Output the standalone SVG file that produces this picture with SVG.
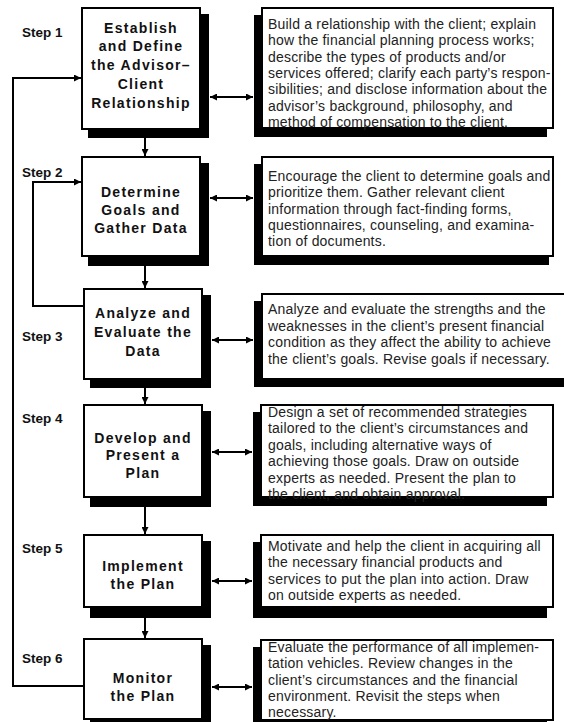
<svg xmlns="http://www.w3.org/2000/svg" width="564" height="722" viewBox="0 0 564 722">
<style>
.bg{fill:#fff}
.sh{fill:#000}
.box{fill:#fff;stroke:#000;stroke-width:2}
.ttl{font-family:"Liberation Sans",Arial,Helvetica,sans-serif;font-weight:bold;font-size:14px;letter-spacing:1.3px;fill:#111;text-anchor:middle}
.step{font-family:"Liberation Sans",Arial,Helvetica,sans-serif;font-weight:bold;font-size:13.5px;fill:#111}
.desc{font-family:"Liberation Sans",Arial,Helvetica,sans-serif;font-size:14px;letter-spacing:0.2px;fill:#222}
.ln{fill:none;stroke:#000;stroke-width:2}
</style>
<defs>
<marker id="ah" viewBox="0 0 10 10" refX="10" refY="5" markerWidth="8" markerHeight="7" orient="auto-start-reverse" markerUnits="userSpaceOnUse">
<path d="M0,0 L10,5 L0,10 z" fill="#000"/>
</marker>
</defs>
<rect class="bg" x="0" y="0" width="564" height="722"/>

<g id="step-labels">
<text class="step" x="22" y="37">Step 1</text>
<text class="step" x="22" y="177">Step 2</text>
<text class="step" x="22" y="341">Step 3</text>
<text class="step" x="22" y="423">Step 4</text>
<text class="step" x="22" y="553">Step 5</text>
<text class="step" x="22" y="663">Step 6</text>
</g>

<g id="connectors">
<line class="ln" x1="145" y1="138" x2="145" y2="156" marker-end="url(#ah)"/>
<line class="ln" x1="145" y1="266" x2="145" y2="288" marker-end="url(#ah)"/>
<line class="ln" x1="145" y1="388" x2="145" y2="404" marker-end="url(#ah)"/>
<line class="ln" x1="145" y1="507" x2="145" y2="534" marker-end="url(#ah)"/>
<line class="ln" x1="145" y1="618" x2="145" y2="638" marker-end="url(#ah)"/>
<polyline class="ln" points="84,306 33,306 33,182 81,182" marker-end="url(#ah)"/>
<polyline class="ln" points="84,686 13,686 13,78 81,78" marker-end="url(#ah)"/>
<line class="ln" x1="210" y1="97" x2="253" y2="97" marker-start="url(#ah)" marker-end="url(#ah)"/>
<line class="ln" x1="210" y1="198" x2="253" y2="198" marker-start="url(#ah)" marker-end="url(#ah)"/>
<line class="ln" x1="212" y1="340" x2="253" y2="340" marker-start="url(#ah)" marker-end="url(#ah)"/>
<line class="ln" x1="212" y1="452" x2="252" y2="452" marker-start="url(#ah)" marker-end="url(#ah)"/>
<line class="ln" x1="212" y1="581" x2="252" y2="581" marker-start="url(#ah)" marker-end="url(#ah)"/>
<line class="ln" x1="212" y1="687" x2="252" y2="687" marker-start="url(#ah)" marker-end="url(#ah)"/>
</g>

<g id="step1">
<rect class="sh" x="88" y="14" width="121" height="124"/>
<rect class="box" x="82" y="8" width="118" height="121"/>
<text class="ttl" x="141" y="32.5">Establish</text>
<text class="ttl" x="141" y="51.3">and Define</text>
<text class="ttl" x="141" y="70.1">the Advisor–</text>
<text class="ttl" x="141" y="88.9">Client</text>
<text class="ttl" x="141" y="107.7">Relationship</text>
</g>
<g id="step1-desc">
<rect class="sh" x="254" y="15" width="293" height="122"/>
<rect class="box" x="262" y="8" width="291" height="120"/>
<text class="desc" x="268" y="29">Build a relationship with the client; explain</text>
<text class="desc" x="268" y="45.3">how the financial planning process works;</text>
<text class="desc" x="268" y="61.6">describe the types of products and/or</text>
<text class="desc" x="268" y="77.9">services offered; clarify each party’s respon-</text>
<text class="desc" x="268" y="94.2">sibilities; and disclose information about the</text>
<text class="desc" x="268" y="110.5">advisor’s background, philosophy, and</text>
<text class="desc" x="268" y="126.8">method of compensation to the client.</text>
</g>

<g id="step2">
<rect class="sh" x="88" y="163" width="121" height="103"/>
<rect class="box" x="82" y="157" width="118" height="99"/>
<text class="ttl" x="141" y="196.5">Determine</text>
<text class="ttl" x="141" y="214.8">Goals and</text>
<text class="ttl" x="141" y="233.1">Gather Data</text>
</g>
<g id="step2-desc">
<rect class="sh" x="254" y="164" width="295" height="101"/>
<rect class="box" x="262" y="157" width="291" height="99"/>
<text class="desc" x="268" y="181">Encourage the client to determine goals and</text>
<text class="desc" x="268" y="197.3">prioritize them. Gather relevant client</text>
<text class="desc" x="268" y="213.6">information through fact-finding forms,</text>
<text class="desc" x="268" y="229.9">questionnaires, counseling, and examina-</text>
<text class="desc" x="268" y="246.2">tion of documents.</text>
</g>

<g id="step3">
<rect class="sh" x="90" y="295" width="121" height="93"/>
<rect class="box" x="84" y="289" width="118" height="90"/>
<text class="ttl" x="143" y="318">Analyze and</text>
<text class="ttl" x="143" y="337.2">Evaluate the</text>
<text class="ttl" x="143" y="356.4">Data</text>
</g>
<g id="step3-desc">
<rect class="sh" x="254" y="301" width="312" height="86"/>
<rect class="box" x="262" y="294" width="306" height="85"/>
<text class="desc" x="268" y="314">Analyze and evaluate the strengths and the</text>
<text class="desc" x="268" y="330.6">weaknesses in the client’s present financial</text>
<text class="desc" x="268" y="347.2">condition as they affect the ability to achieve</text>
<text class="desc" x="268" y="363.8">the client’s goals. Revise goals if necessary.</text>
</g>

<g id="step4">
<rect class="sh" x="90" y="411" width="121" height="96"/>
<rect class="box" x="84" y="405" width="118" height="92"/>
<text class="ttl" x="143" y="442.5">Develop and</text>
<text class="ttl" x="143" y="460">Present a</text>
<text class="ttl" x="143" y="477.5">Plan</text>
</g>
<g id="step4-desc">
<rect class="sh" x="253" y="412" width="294" height="94"/>
<rect class="box" x="261" y="405" width="292" height="92"/>
<text class="desc" x="268" y="417">Design a set of recommended strategies</text>
<text class="desc" x="268" y="433.4">tailored to the client’s circumstances and</text>
<text class="desc" x="268" y="449.8">goals, including alternative ways of</text>
<text class="desc" x="268" y="466.2">achieving those goals. Draw on outside</text>
<text class="desc" x="268" y="482.6">experts as needed. Present the plan to</text>
<text class="desc" x="268" y="499">the client, and obtain approval.</text>
</g>

<g id="step5">
<rect class="sh" x="90" y="541" width="121" height="77"/>
<rect class="box" x="84" y="535" width="118" height="72"/>
<text class="ttl" x="143" y="571">Implement</text>
<text class="ttl" x="143" y="588.5">the Plan</text>
</g>
<g id="step5-desc">
<rect class="sh" x="253" y="542" width="294" height="76"/>
<rect class="box" x="261" y="535" width="292" height="72"/>
<text class="desc" x="268" y="551">Motivate and help the client in acquiring all</text>
<text class="desc" x="268" y="567.4">the necessary financial products and</text>
<text class="desc" x="268" y="583.8">services to put the plan into action. Draw</text>
<text class="desc" x="268" y="600.2">on outside experts as needed.</text>
</g>

<g id="step6">
<rect class="sh" x="90" y="645" width="121" height="82"/>
<rect class="box" x="84" y="639" width="118" height="80"/>
<text class="ttl" x="143" y="682.5">Monitor</text>
<text class="ttl" x="143" y="700.5">the Plan</text>
</g>
<g id="step6-desc">
<rect class="sh" x="253" y="647" width="294" height="80"/>
<rect class="box" x="261" y="640" width="292" height="80"/>
<text class="desc" x="268" y="652">Evaluate the performance of all implemen-</text>
<text class="desc" x="268" y="668.3">tation vehicles. Review changes in the</text>
<text class="desc" x="268" y="684.6">client’s circumstances and the financial</text>
<text class="desc" x="268" y="700.9">environment. Revisit the steps when</text>
<text class="desc" x="268" y="717.2">necessary.</text>
</g>
</svg>
